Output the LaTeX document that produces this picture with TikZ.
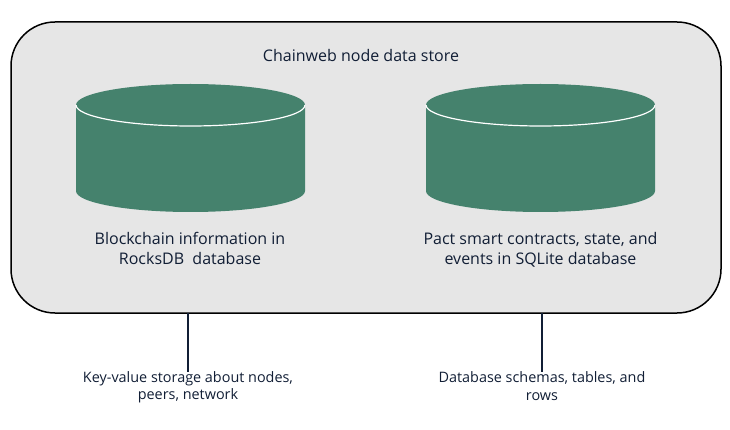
\documentclass[tikz,border=0pt]{standalone}
\usepackage{fontspec}
\setmainfont{Open Sans}
\usepackage{tikz}
\usetikzlibrary{calc,positioning}
\definecolor{storefill}{HTML}{E6E6E6}
\definecolor{dbgreen}{HTML}{45826D}
\definecolor{inktext}{HTML}{111E35}

\begin{document}
\begin{tikzpicture}[x=1pt, y=-1pt, every node/.style={align=center, text=inktext, inner sep=0pt, outer sep=0pt},
  dbtext/.style={font=\fontsize{16}{20}\selectfont},
  notetext/.style={font=\fontsize{14.4}{17.5}\selectfont},
  dbbody/.style={fill=dbgreen},
  dbrim/.style={draw=white, line width=1.2pt},
  lead/.style={draw=inktext, line width=1.3pt}]
\useasboundingbox (0,0) rectangle (730,430);
\node[draw=black, line width=1.5pt, rounded corners=44pt, fill=storefill, minimum width=710pt, minimum height=291pt] (store) at (366, 167.5) {};
\node[dbtext] (title) at (361, 55.5) {Chainweb node data store};
% left cylinder
\fill[dbbody] (76, 105) arc[start angle=180, end angle=0, x radius=114.5pt, y radius=21pt] -- (305, 191) arc[start angle=0, end angle=-180, x radius=114.5pt, y radius=21pt] -- cycle;
\draw[dbrim] (76, 105) arc[start angle=180, end angle=360, x radius=114.5pt, y radius=21pt];
% right cylinder
\fill[dbbody] (426, 105) arc[start angle=180, end angle=0, x radius=114.5pt, y radius=21pt] -- (655, 191) arc[start angle=0, end angle=-180, x radius=114.5pt, y radius=21pt] -- cycle;
\draw[dbrim] (426, 105) arc[start angle=180, end angle=360, x radius=114.5pt, y radius=21pt];
\node[dbtext] (rockstext) at (190, 248) {Blockchain information in \\ RocksDB\ \ database};
\node[dbtext] (pacttext) at (540.5, 249.5) {Pact smart contracts, state, and \\ events in SQLite database};
\node[notetext] (rocksnote) at (188, 387.5) {Key-value storage about nodes, \\ peers, network};
\node[notetext] (pactnote) at (542, 386) {Database schemas, tables, and \\ rows};
\draw[lead] (rocksnote.north |- store.south) -- (rocksnote.north);
\draw[lead] (pactnote.north |- store.south) -- (pactnote.north);
\end{tikzpicture}
\end{document}
